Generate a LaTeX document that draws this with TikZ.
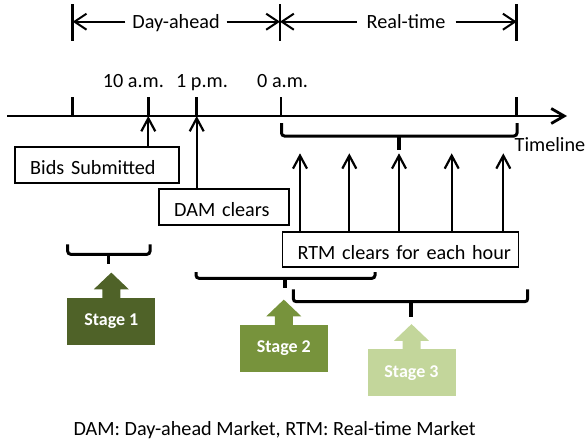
\documentclass[tikz,border=0pt]{standalone}
\usepackage{fontspec}
\setmainfont{Carlito}
\usetikzlibrary{arrows.meta}
\definecolor{stageA}{HTML}{4F6228}
\definecolor{stageB}{HTML}{77933C}
\definecolor{stageC}{HTML}{C3D69B}
\newcommand\mkbrace[6]{%
  \draw[brk] (#1,#3) -- (#1,#4) -- (#2,#4) -- (#2,#3);
  \draw[brktip] (#5,#4) -- (#5,#6);}
\newcommand\stagearrow[2]{%
  \fill[#2] ([shift={(-9,1)}]#1.north) -- ([shift={(-9,-8.3)}]#1.north)
    -- ([shift={(-17.5,-8.3)}]#1.north) -- ([shift={(0,-25)}]#1.north)
    -- ([shift={(17.5,-8.3)}]#1.north) -- ([shift={(9,-8.3)}]#1.north)
    -- ([shift={(9,1)}]#1.north) -- cycle;}
\begin{document}
\begin{tikzpicture}[x=1pt,y=-1pt,
  every node/.style={font=\fontsize{20.2}{24}\selectfont, inner sep=0pt},
  tick/.style={line width=2.6pt},
  tlaxis/.style={line width=2.8pt, -{Straight Barb[length=13pt,width=15pt]}},
  dimarrow/.style={line width=2pt, -{Straight Barb[length=12pt,width=16pt]}},
  uparrow/.style={line width=2.2pt, -{Straight Barb[length=13pt,width=14pt]}},
  box/.style={draw, line width=1.8pt, inner xsep=15pt, inner ysep=0pt,
    text height=19pt, text depth=0pt, align=left},
  brk/.style={line width=3pt, rounded corners=3pt},
  brktip/.style={line width=3.6pt},
  stagebox/.style={minimum width=88pt, minimum height=47pt, text=white,
    font=\fontsize{18}{22}\selectfont\bfseries}
]
\useasboundingbox (0,0) rectangle (587,445);

% top dimension line
\foreach \x in {72.7,280,516.7} \draw[tick] (\x,4) -- (\x,40.7);
\coordinate (pL) at (72.7,21.7);
\coordinate (pM) at (280,21.7);
\coordinate (pR) at (516.7,21.7);
\node[anchor=base, inner xsep=6.7pt] (da) at (176,28.3) {Day-ahead};
\node[anchor=base, inner xsep=10pt] (rt) at (406,28) {Real-time};
\draw[dimarrow] (da.west |- pL) -- (pL);
\draw[dimarrow] (da.east |- pM) -- (pM);
\draw[dimarrow] (rt.west |- pM) -- (pM);
\draw[dimarrow] (rt.east |- pR) -- (pR);

% time labels
\node[anchor=base] (l10) at (133.4,87.5) {10 a.m.};
\node[anchor=base] (l1) at (202,87.5) {1 p.m.};
\node[anchor=base] (l0) at (282.6,87.5) {0 a.m.};

% timeline
\coordinate (tlS) at (7,116);
\coordinate (tlE) at (567,116);
\draw[tlaxis] (tlS) -- (tlE);
\foreach \x/\n in {72.7/a,148.3/b,196.7/c,281/d,516.7/e}{
  \coordinate (tk\n) at (\x,116);
  \draw[tick] (\x,97.3) -- (tk\n);}
\node[anchor=base east] (tl) at (585.5,151.7) {Timeline};

% boxes
\node[box, text width=134pt, minimum height=35.4pt] (bids) at (97.2,165) {\mbox{Bids Submitted}};
\node[box, text width=100pt, minimum height=35.7pt] (dam) at (224.2,207.2) {\mbox{DAM clears}};
\node[box, text width=206pt, minimum height=34.4pt] (rtm) at (400.5,249.5) {\mbox{RTM clears for each hour}};

% arrows
\draw[uparrow] (bids.north -| tkb) -- (tkb);
\draw[uparrow] (dam.north -| tkc) -- (tkc);
\foreach \x [count=\i] in {300,349.3,399,451.7,503.3}{
  \coordinate (h\i) at (\x,153.3);
  \draw[uparrow] (rtm.north -| h\i) -- (h\i);}

% brackets
\mkbrace{281.5}{517}{123}{136}{399}{150}
\mkbrace{67.7}{150}{244.3}{254.3}{108.3}{264.3}
\mkbrace{196}{375}{272}{278.3}{285}{288.3}
\mkbrace{293.3}{527.7}{289.3}{301.7}{411}{316.7}

% stages
\node[stagebox, fill=stageA] (s1) at (111.3,321.3) {Stage 1};
\stagearrow{s1}{stageA}
\node[stagebox, fill=stageB] (s2) at (283.8,348.3) {Stage 2};
\stagearrow{s2}{stageB}
\node[stagebox, fill=stageC] (s3) at (411.5,372.8) {Stage 3};
\stagearrow{s3}{stageC}

% footnote
\node[anchor=base] (note) at (274.5,435) {DAM: Day-ahead Market, RTM: Real-time Market};
\end{tikzpicture}
\end{document}
